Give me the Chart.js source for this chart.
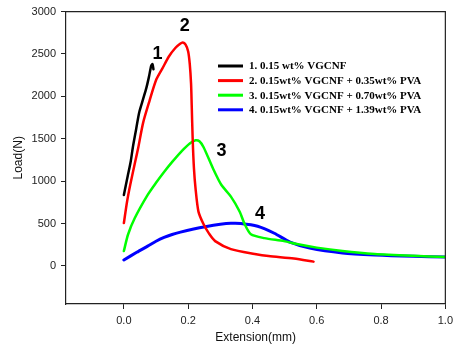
<!DOCTYPE html>
<html>
<head>
<meta charset="utf-8">
<script src="https://cdn.jsdelivr.net/npm/chart.js@4.4.1/dist/chart.umd.min.js"></script>
<style>
  html, body { margin: 0; padding: 0; background: #fff; }
  #wrap { width: 458px; height: 358px; }
</style>
</head>
<body>
<div id="wrap"><canvas id="c" width="458" height="358"></canvas></div>
<script>
// Load–extension curves, extension in mm, load in N
const seriesLabels = [
  '1. 0.15 wt% VGCNF',
  '2. 0.15wt% VGCNF + 0.35wt% PVA',
  '3. 0.15wt% VGCNF + 0.70wt% PVA',
  '4. 0.15wt% VGCNF + 1.39wt% PVA'
];
const curveNumbers = ['1', '2', '3', '4'];

const ext1  = [0, 0.005, 0.012, 0.021, 0.028, 0.038, 0.045, 0.049, 0.06, 0.07, 0.078, 0.085, 0.089, 0.092];
const load1 = [837, 930, 1060, 1225, 1400, 1610, 1760, 1830, 1970, 2100, 2230, 2360, 2380, 2320];

const ext2  = [0, 0.01, 0.02, 0.035, 0.045, 0.06, 0.08, 0.1, 0.12, 0.14, 0.16, 0.175, 0.183, 0.192, 0.2, 0.205, 0.209, 0.211, 0.214, 0.218, 0.223, 0.232, 0.248, 0.265, 0.284, 0.333, 0.407, 0.45, 0.529, 0.59];
const load2 = [505, 760, 960, 1225, 1400, 1690, 1950, 2190, 2330, 2470, 2570, 2620, 2635, 2610, 2530, 2380, 2150, 1900, 1500, 1150, 910, 640, 490, 380, 292, 198, 140, 115, 88, 50];

const ext3  = [0, 0.013, 0.034, 0.074, 0.1, 0.125, 0.151, 0.18, 0.205, 0.223, 0.235, 0.248, 0.278, 0.303, 0.333, 0.36, 0.376, 0.395, 0.437, 0.498, 0.538, 0.6, 0.68, 0.78, 0.9, 1.0];
const load3 = [175, 370, 564, 837, 980, 1108, 1230, 1355, 1445, 1482, 1470, 1400, 1143, 957, 817, 642, 490, 373, 327, 292, 257, 215, 175, 140, 118, 105];

const ext4  = [0, 0.04, 0.074, 0.1, 0.125, 0.15, 0.176, 0.217, 0.253, 0.3, 0.333, 0.364, 0.416, 0.468, 0.517, 0.578, 0.68, 0.78, 0.9, 1.0];
const load4 = [70, 160, 233, 290, 335, 370, 398, 435, 462, 490, 502, 500, 467, 385, 280, 210, 152, 128, 112, 105];

const lineColors = ['#000000', '#ff0000', '#00ff00', '#0000ff'];

const xTickValues = [0, 0.2, 0.4, 0.6, 0.8, 1.0];
const yTickValues = [0, 500, 1000, 1500, 2000, 2500, 3000];

const pairs = (xs, ys) => xs.map((x, i) => ({ x: x, y: ys[i] }));
const curves = [pairs(ext1, load1), pairs(ext2, load2), pairs(ext3, load3), pairs(ext4, load4)];

const datasets = curves.map((pts, i) => ({
  label: seriesLabels[i],
  data: pts,
  borderColor: lineColors[i],
  backgroundColor: lineColors[i],
  borderWidth: i === 3 ? 3 : 2.5,
  pointRadius: 0,
  tension: 0.25,
  borderJoinStyle: 'round',
  borderCapStyle: 'round',
  fill: false
}));

// closes the plot box on the top and right sides
const framePlugin = {
  id: 'frame',
  afterDraw(chart) {
    const { ctx, chartArea: a } = chart;
    ctx.save();
    ctx.strokeStyle = '#222';
    ctx.lineWidth = 1.2;
    ctx.beginPath();
    ctx.moveTo(a.left, a.top);
    ctx.lineTo(a.right, a.top);
    ctx.lineTo(a.right, a.bottom);
    ctx.stroke();
    ctx.restore();
  }
};

// curve numbers placed next to each curve's maximum load
const numberOffsets = [[5, -10], [2, -17], [26, 11], [29, -9]];
const numberPlugin = {
  id: 'curveNumbers',
  afterDatasetsDraw(chart) {
    const { ctx, scales: { x, y } } = chart;
    ctx.save();
    ctx.font = 'bold 18px "Liberation Sans", Arial, sans-serif';
    ctx.fillStyle = '#000';
    ctx.textAlign = 'center';
    ctx.textBaseline = 'middle';
    curves.forEach((pts, i) => {
      const top = pts.reduce((m, p) => (p.y > m.y ? p : m), pts[0]);
      ctx.fillText(curveNumbers[i],
        x.getPixelForValue(top.x) + numberOffsets[i][0],
        y.getPixelForValue(top.y) + numberOffsets[i][1]);
    });
    ctx.restore();
  }
};

// legend drawn inside the plot area
const legendPlugin = {
  id: 'innerLegend',
  afterDatasetsDraw(chart) {
    const { ctx } = chart;
    const x0 = 218, y0 = 66, rowH = 14.6, lineLen = 25;
    ctx.save();
    ctx.font = 'bold 11px "Liberation Serif", "Times New Roman", serif';
    ctx.textBaseline = 'middle';
    ctx.textAlign = 'left';
    chart.data.datasets.forEach((ds, i) => {
      const yy = y0 + i * rowH;
      ctx.strokeStyle = ds.borderColor;
      ctx.lineWidth = 3;
      ctx.beginPath();
      ctx.moveTo(x0, yy);
      ctx.lineTo(x0 + lineLen, yy);
      ctx.stroke();
      ctx.fillStyle = '#000';
      ctx.fillText(ds.label, x0 + lineLen + 6, yy + 0.5);
    });
    ctx.restore();
  }
};

const tickFont = { family: '"Liberation Sans", Arial, sans-serif', size: 11 };

new Chart(document.getElementById('c'), {
  type: 'line',
  data: { datasets: datasets },
  plugins: [framePlugin, numberPlugin, legendPlugin],
  options: {
    responsive: false,
    animation: false,
    layout: { padding: { top: 8, right: 7, left: 0, bottom: 0 } },
    plugins: { legend: { display: false }, tooltip: { enabled: false } },
    scales: {
      x: {
        type: 'linear',
        min: -0.18,
        max: 1.0,
        afterBuildTicks(scale) { scale.ticks = xTickValues.map(v => ({ value: v })); },
        afterFit(scale) { scale.height = 54; },
        ticks: {
          font: tickFont,
          color: '#222',
          padding: 5,
          maxRotation: 0,
          callback: v => Number(v).toFixed(1)
        },
        grid: { drawOnChartArea: false, drawTicks: true, tickLength: 5, color: '#222' },
        border: { display: true, color: '#222', width: 1.2 },
        title: {
          display: true,
          text: 'Extension(mm)',
          font: { family: '"Liberation Sans", Arial, sans-serif', size: 12 },
          color: '#111',
          padding: { top: 0, bottom: 13 }
        }
      },
      y: {
        type: 'linear',
        min: -450,
        max: 3000,
        afterBuildTicks(scale) { scale.ticks = yTickValues.map(v => ({ value: v })); },
        afterFit(scale) { scale.width = 66; },
        ticks: {
          font: tickFont,
          color: '#222',
          padding: 5,
          callback: v => String(v)
        },
        grid: { drawOnChartArea: false, drawTicks: true, tickLength: 5, color: '#222' },
        border: { display: true, color: '#222', width: 1.2 },
        title: {
          display: true,
          text: 'Load(N)',
          font: { family: '"Liberation Sans", Arial, sans-serif', size: 12 },
          color: '#111',
          padding: { top: 11, bottom: 0 }
        }
      }
    }
  }
});
</script>
</body>
</html>
